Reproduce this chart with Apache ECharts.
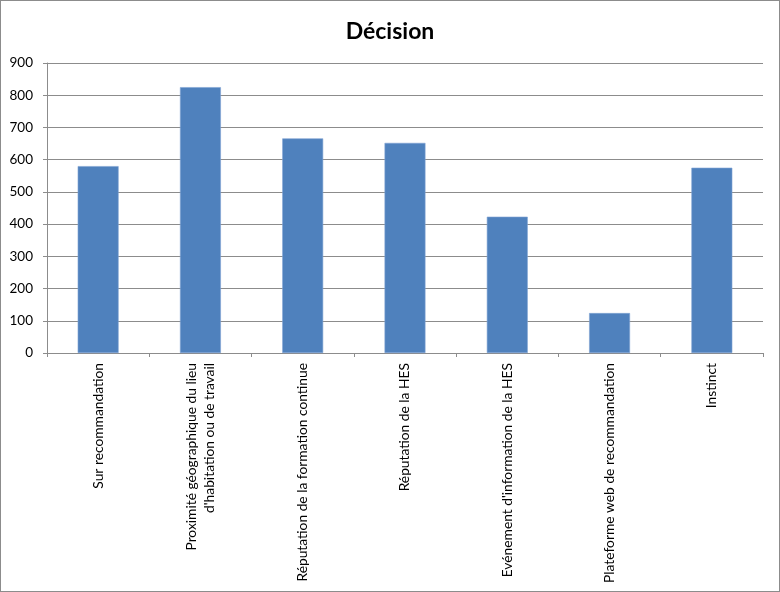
<!DOCTYPE html>
<html><head><meta charset="utf-8">
<script src="https://cdn.jsdelivr.net/npm/echarts@6/dist/echarts.min.js"></script>
<style>
html,body{margin:0;padding:0;background:#fff;}
#c{width:778px;height:590px;border:1px solid #8c8c8c;}
</style></head>
<body><div id="c"></div>
<script>
const title = "Décision";
const categories = [
  "Sur recommandation",
  "Proximité géographique du lieu\nd'habitation ou de travail",
  "Réputation de la formation continue",
  "Réputation de la HES",
  "Evénement d'information de la HES",
  "Plateforme web de recommandation",
  "Instinct"
];
const values = [580, 825, 666, 652, 423, 124, 575];
const yMin = 0, yMax = 900, yStep = 100;

const chart = echarts.init(document.getElementById('c'), null, {renderer:'canvas'});
chart.setOption({
  animation:false,
  title:{text:title,left:'center',top:14,textStyle:{fontFamily:'Lato',fontWeight:'bold',fontSize:23,color:'#000'}},
  grid:{left:46,right:16,top:62,bottom:238},
  xAxis:{type:'category',data:categories,
    axisLine:{lineStyle:{color:'#8c8c8c',width:1}},
    axisTick:{show:true,alignWithLabel:false,length:4,lineStyle:{color:'#8c8c8c'}},
    axisLabel:{rotate:90,interval:0,margin:10,fontFamily:'Lato',fontSize:13.8,color:'#000',lineHeight:18}
  },
  yAxis:{type:'value',min:yMin,max:yMax,interval:yStep,
    axisLine:{show:true,lineStyle:{color:'#8c8c8c',width:1}},
    axisTick:{show:true,length:4,lineStyle:{color:'#8c8c8c'}},
    axisLabel:{fontFamily:'Lato',fontSize:13.5,color:'#000',margin:14},
    splitLine:{lineStyle:{color:'#8c8c8c',width:1}}
  },
  series:[{type:'bar',data:values,barWidth:'40%',itemStyle:{color:'#4F81BD',borderColor:'#7fa3d3',borderWidth:0.6}}]
});
</script></body></html>
